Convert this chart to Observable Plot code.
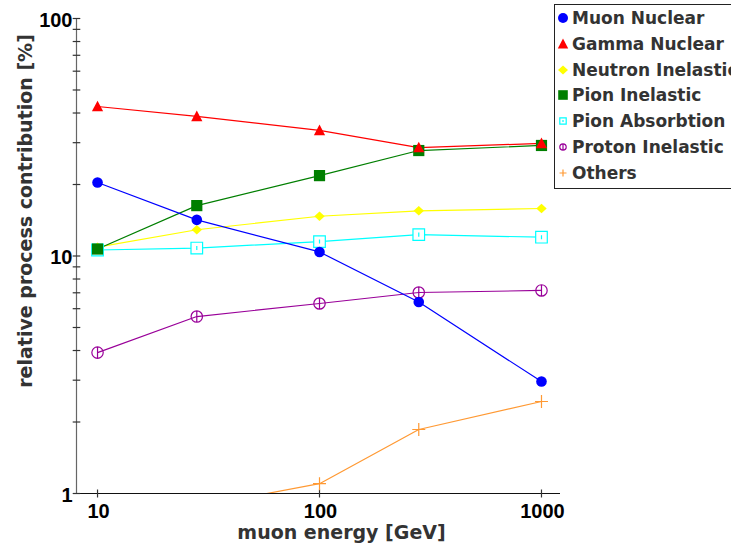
<!DOCTYPE html>
<html><head><meta charset="utf-8">
<script src="https://cdn.jsdelivr.net/npm/d3@7"></script>
<script src="https://cdn.jsdelivr.net/npm/@observablehq/plot@0.6"></script>
<style>
html,body{margin:0;padding:0;background:#fff;overflow:hidden;width:731px;height:550px}
#wrap{position:relative;width:731px;height:550px}
#wrap svg{display:block}
#legend{position:absolute;left:554px;top:4px;width:200px;height:185px;border:1px solid #222;background:#fff;box-sizing:border-box;font:bold 17px "DejaVu Sans",sans-serif;color:#333}
.item{position:absolute;left:0;height:22px;display:flex;align-items:center;white-space:nowrap}
.item svg{margin-right:1px}
</style></head><body><div id="wrap"></div>
<script>
// ---- data ----
const energies = [10, 28, 100, 280, 1000];
const seriesNames = ["Muon Nuclear", "Gamma Nuclear", "Neutron Inelastic", "Pion Inelastic", "Pion Absorbtion", "Proton Inelastic", "Others"];
const muonNuclear      = [20.4, 14.2, 10.4, 6.4, 2.96];
const gammaNuclear     = [42.6, 38.7, 33.8, 28.6, 29.8];
const neutronInelastic = [10.9, 12.9, 14.7, 15.5, 15.85];
const pionInelastic    = [10.7, 16.3, 21.8, 27.8, 29.2];
const pionAbsorbtion   = [10.6, 10.8, 11.5, 12.3, 12.0];
const protonInelastic  = [3.92, 5.56, 6.31, 7.02, 7.16];
const others           = [null, 0.88, 1.10, 1.86, 2.44];
const yTickValues = [1,2,3,4,5,6,7,8,9,10,20,30,40,50,60,70,80,90,100];
const yTickLabels = [1, 10, 100];
const xTickLabels = [10, 100, 1000];
const xAxisLabel = "muon energy [GeV]";
const yAxisLabel = "relative process contribution [%]";

// ---- symbols (size = pi r^2) ----
const rad = s => Math.sqrt(s / Math.PI);
const symCircle = {draw(c, s){ const r = rad(s); c.moveTo(r,0); c.arc(0,0,r,0,2*Math.PI); }};
const symTriangle = {draw(c, s){ const r = rad(s); c.moveTo(0,-1.05*r); c.lineTo(r,0.85*r); c.lineTo(-r,0.85*r); c.closePath(); }};
const symDiamond = {draw(c, s){ const r = rad(s); c.moveTo(0,-0.9*r); c.lineTo(r,0); c.lineTo(0,0.9*r); c.lineTo(-r,0); c.closePath(); }};
const symSquare = {draw(c, s){ const r = rad(s); c.rect(-r,-r,2*r,2*r); }};
const symSquareTick = {draw(c, s){ const r = rad(s); c.rect(-r,-r,2*r,2*r); c.moveTo(0,-0.35*r); c.lineTo(0,0.35*r); }};
const symCircleBar = {draw(c, s){ const r = rad(s); c.moveTo(r,0); c.arc(0,0,r,0,2*Math.PI); c.moveTo(0,-r); c.lineTo(0,r); }};
const symPlus = {draw(c, s){ const r = rad(s); c.moveTo(-r,0); c.lineTo(r,0); c.moveTo(0,-r); c.lineTo(0,r); }};
const symHTick = {draw(c, s){ const r = rad(s); c.moveTo(-r,0); c.lineTo(r,0); }};
const symVTick = {draw(c, s){ const r = rad(s); c.moveTo(0,-r); c.lineTo(0,r); }};

const series = [
  {name: seriesNames[0], values: muonNuclear, color: "#0000ff", sym: symCircle, r: 5.3, filled: true, lr: 5},
  {name: seriesNames[1], values: gammaNuclear, color: "#ff0000", sym: symTriangle, r: 5.6, filled: true, lr: 5.2},
  {name: seriesNames[2], values: neutronInelastic, color: "#ffff00", sym: symDiamond, r: 5.2, filled: true, lr: 5},
  {name: seriesNames[3], values: pionInelastic, color: "#007f00", sym: symSquare, r: 5.6, filled: true, lr: 4.8},
  {name: seriesNames[4], values: pionAbsorbtion, color: "#00ffff", sym: symSquareTick, r: 5.8, filled: false, lr: 3.2},
  {name: seriesNames[5], values: protonInelastic, color: "#990099", sym: symCircleBar, r: 5.7, filled: false, lr: 3.2},
  {name: seriesNames[6], values: others, color: "#ff9933", sym: symPlus, r: 6.5, filled: false, lr: 3.5}
];
const drawOrder = [6, 5, 4, 2, 3, 0, 1];

const xDomain = [8.04, 1218];
const rows = s => energies.map((e, i) => ({e, v: s.values[i]})).filter(d => d.v != null);

const marks = [];
marks.push(Plot.ruleY([1], {y: d => d, stroke: "#111", strokeWidth: 1}));
marks.push(Plot.ruleX([xDomain[0]], {x: d => d, stroke: "#666", strokeWidth: 1.2}));
marks.push(Plot.dot(yTickValues, {x: d => xDomain[0], y: d => d, symbol: symHTick, r: 3.8, stroke: "#333", strokeWidth: 1.2}));
marks.push(Plot.dot(xTickLabels, {x: d => d, y: d => 1, symbol: symVTick, r: 4, stroke: "#333", strokeWidth: 1.2}));
marks.push(Plot.text(yTickLabels, {x: d => xDomain[0], y: d => d, text: d => String(d), textAnchor: "end", lineAnchor: "middle", dx: -4, dy: 2, fontSize: 20, fontWeight: "bold", fontFamily: "Liberation Sans", fill: "#000"}));
marks.push(Plot.text(xTickLabels, {x: d => d, y: d => 1, text: d => String(d), textAnchor: "middle", lineAnchor: "middle", dy: 18, dx: 1, fontSize: 20, fontWeight: "bold", fontFamily: "Liberation Sans", fill: "#000"}));
marks.push(Plot.text([xAxisLabel], {frameAnchor: "bottom", text: d => d, textAnchor: "middle", lineAnchor: "middle", dx: 23, dy: 39, fontSize: 19, fontWeight: "bold", fontFamily: "DejaVu Sans", fill: "#333"}));
marks.push(Plot.text([yAxisLabel], {frameAnchor: "left", text: d => d, rotate: -90, textAnchor: "middle", lineAnchor: "middle", dx: -51, dy: -45, fontSize: 19, fontWeight: "bold", fontFamily: "DejaVu Sans", fill: "#333"}));
for (const k of drawOrder) {
  const s = series[k];
  marks.push(Plot.line(rows(s), {x: "e", y: "v", stroke: s.color, strokeWidth: 1.2, clip: true}));
}
for (const k of drawOrder) {
  const s = series[k];
  marks.push(Plot.dot(rows(s), {x: "e", y: "v", symbol: s.sym, r: s.r, clip: true,
    fill: s.filled ? s.color : (s.sym === symSquareTick ? "#fff" : "none"),
    stroke: s.color, strokeWidth: s.filled ? 0 : 1.2}));
}

const chart = Plot.plot({
  width: 731, height: 550,
  marginLeft: 76, marginRight: 171, marginTop: 18, marginBottom: 57,
  x: {type: "log", domain: xDomain, axis: null},
  y: {type: "log", domain: [1, 100], axis: null},
  style: {background: "#fff", overflow: "visible"},
  marks
});
const wrap = document.getElementById("wrap");
wrap.appendChild(chart);

// ---- legend ----
const legend = document.createElement("div");
legend.id = "legend";
series.forEach((s, i) => {
  const item = document.createElement("div");
  item.className = "item";
  item.style.top = (13 + i * 25.8 - 11) + "px";
  const path = d3.symbol(s.sym, Math.PI * s.lr * s.lr)();
  item.innerHTML = `<svg width="16" height="22" viewBox="-8 -11 16 22"><path d="${path}" fill="${s.filled ? s.color : "none"}" stroke="${s.color}" stroke-width="${s.filled ? 0 : 1.2}"/></svg><span>${s.name}</span>`;
  legend.appendChild(item);
});
wrap.appendChild(legend);
</script>
</body></html>
